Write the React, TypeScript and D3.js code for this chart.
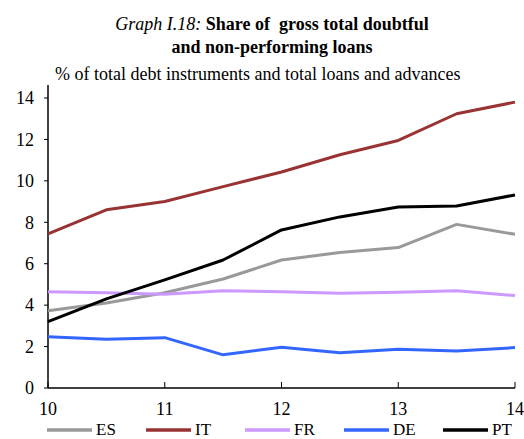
import React, { useEffect, useRef } from 'react';
import * as d3 from 'd3';

const periods = [10, 10.5, 11, 11.5, 12, 12.5, 13, 13.5, 14];
const xTicks = [10, 11, 12, 13, 14];
const yTicks = [0, 2, 4, 6, 8, 10, 12, 14];

const esValues = [3.73, 4.1, 4.6, 5.26, 6.18, 6.54, 6.78, 7.9, 7.42];
const itValues = [7.44, 8.6, 9.0, 9.72, 10.43, 11.26, 11.95, 13.24, 13.8];
const frValues = [4.65, 4.6, 4.52, 4.7, 4.65, 4.57, 4.62, 4.7, 4.46];
const deValues = [2.48, 2.35, 2.43, 1.6, 1.97, 1.7, 1.87, 1.79, 1.95];
const ptValues = [3.2, 4.3, 5.22, 6.18, 7.63, 8.26, 8.74, 8.79, 9.32];

const seriesNames = ['ES', 'IT', 'FR', 'DE', 'PT'];
const seriesColors = ['#999999', '#993333', '#cc99ff', '#3366ff', '#000000'];

const App: React.FC = () => {
  const svgRef = useRef<SVGSVGElement>(null);

  useEffect(() => {
    if (!svgRef.current) return;
    const svg = d3.select(svgRef.current);
    svg.selectAll('*').remove();

    const font = '"Liberation Serif", "Times New Roman", serif';
    const left = 48;
    const right = 515;
    const top = 98;
    const bottom = 388;

    const x = d3.scaleLinear().domain([10, 14]).range([left, right]);
    const y = d3.scaleLinear().domain([0, 14]).range([bottom, top]);

    // Titles
    const title = svg.append('text')
      .attr('x', 272)
      .attr('y', 30)
      .attr('text-anchor', 'middle')
      .attr('font-family', font)
      .attr('font-size', 18)
      .style('white-space', 'pre');
    title.append('tspan').attr('font-style', 'italic').text('Graph I.18: ');
    title.append('tspan').attr('font-weight', 'bold').text('Share of  gross total doubtful');

    svg.append('text')
      .attr('x', 272)
      .attr('y', 53)
      .attr('text-anchor', 'middle')
      .attr('font-family', font)
      .attr('font-size', 18)
      .attr('font-weight', 'bold')
      .text('and non-performing loans');

    svg.append('text')
      .attr('x', 55)
      .attr('y', 80)
      .attr('font-family', font)
      .attr('font-size', 18)
      .text('% of total debt instruments and total loans and advances');

    // Y axis
    svg.append('line')
      .attr('x1', left).attr('x2', left)
      .attr('y1', 85).attr('y2', bottom)
      .attr('stroke', '#000').attr('stroke-width', 1.5);

    svg.append('g')
      .selectAll('line')
      .data(yTicks)
      .enter().append('line')
      .attr('x1', left - 4).attr('x2', left)
      .attr('y1', d => y(d)).attr('y2', d => y(d))
      .attr('stroke', '#000').attr('stroke-width', 1);

    svg.append('g')
      .selectAll('text')
      .data(yTicks)
      .enter().append('text')
      .attr('x', 34)
      .attr('y', d => y(d))
      .attr('dy', '0.35em')
      .attr('text-anchor', 'end')
      .attr('font-family', font)
      .attr('font-size', 18)
      .text(d => d);

    // X axis
    svg.append('line')
      .attr('x1', left).attr('x2', right)
      .attr('y1', bottom).attr('y2', bottom)
      .attr('stroke', '#000').attr('stroke-width', 1.5);

    svg.append('g')
      .selectAll('line')
      .data(xTicks)
      .enter().append('line')
      .attr('x1', d => x(d)).attr('x2', d => x(d))
      .attr('y1', bottom - 6).attr('y2', bottom)
      .attr('stroke', '#000').attr('stroke-width', 1);

    svg.append('g')
      .selectAll('text')
      .data(xTicks)
      .enter().append('text')
      .attr('x', d => x(d))
      .attr('y', 415)
      .attr('text-anchor', 'middle')
      .attr('font-family', font)
      .attr('font-size', 18)
      .text(d => d);

    // Lines
    const allSeries = [esValues, itValues, frValues, deValues, ptValues];
    const line = d3.line<number>()
      .x((_, i) => x(periods[i]))
      .y(d => y(d));

    allSeries.forEach((vals, i) => {
      svg.append('path')
        .datum(vals)
        .attr('fill', 'none')
        .attr('stroke', seriesColors[i])
        .attr('stroke-width', 3)
        .attr('stroke-linejoin', 'round')
        .attr('d', line);
    });

    // Legend
    const legend = svg.append('g')
      .selectAll('g')
      .data(seriesNames)
      .enter().append('g')
      .attr('transform', (_, i) => `translate(${47 + i * 99},430)`);

    legend.append('line')
      .attr('x1', 0).attr('x2', 45)
      .attr('y1', 0).attr('y2', 0)
      .attr('stroke', (_, i) => seriesColors[i])
      .attr('stroke-width', 3.5);

    legend.append('text')
      .attr('x', 49)
      .attr('y', 5)
      .attr('font-family', font)
      .attr('font-size', 17)
      .text(d => d);
  }, []);

  return (
    <svg
      ref={svgRef}
      width={524}
      height={439}
      style={{ position: 'absolute', left: 0, top: 0, background: '#fff' }}
    />
  );
};

export default App;
